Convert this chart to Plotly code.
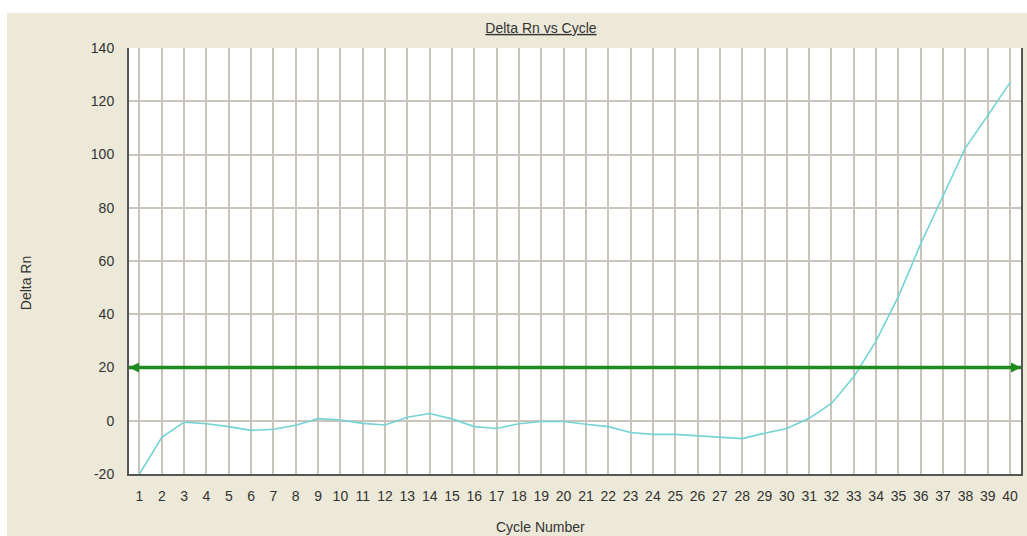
import plotly.graph_objects as go

cycles = list(range(1, 41))
delta_rn = [-20.0, -6.2, -0.5, -1.1, -2.2, -3.6, -3.2, -1.7, 0.8, 0.3,
            -1.0, -1.6, 1.3, 2.7, 0.7, -2.2, -2.9, -1.1, -0.3, -0.3,
            -1.3, -2.2, -4.4, -5.1, -5.1, -5.7, -6.3, -6.7, -4.7, -2.9,
            0.9, 6.5, 16.5, 30.0, 46.7, 66.5, 84.5, 102.5, 114.6, 127.1]
threshold = 20
y_ticks = [-20, 0, 20, 40, 60, 80, 100, 120, 140]
y_tick_labels = ["-20", "0", "20", "40", "60", "80", "100", "120", "140"]
x_tick_labels = [str(c) for c in cycles]

BG = "#ECE9D8"
GRID = "#C9C5BA"
AXIS = "#555555"
TXT = "#333333"
FONT = "Liberation Sans, Arial, sans-serif"

OX, OY = 7, 13            # offset of the beige panel inside the white page
W, H = 1027 - OX, 536 - OY
L, R, T, B = 129 - OX, 4, 48 - OY, 62
pw, ph = W - L - R, H - T - B

x_range = [0.53, 40.49]

fig = go.Figure()

fig.add_trace(go.Scatter(
    x=cycles, y=delta_rn, mode="lines",
    line=dict(color="#74D3D3", width=1.6),
    hoverinfo="x+y", showlegend=False,
))

fig.add_trace(go.Scatter(
    x=x_range, y=[threshold, threshold], mode="lines+markers",
    line=dict(color="#1F8A1F", width=3.5),
    marker=dict(symbol=["arrow-left", "arrow-right"], size=10, color="#1F8A1F",
                line=dict(width=0)),
    cliponaxis=False, showlegend=False, hoverinfo="y",
))

fig.update_layout(
    width=W, height=H,
    margin=dict(l=L, r=R, t=T, b=B, pad=0),
    paper_bgcolor=BG, plot_bgcolor="white",
    font=dict(family=FONT, size=14, color=TXT),
    title=dict(text="<u>Delta Rn vs Cycle</u>", x=(541 - OX) / W, xref="container",
               y=1 - (28 - OY) / H, yref="container", xanchor="center", yanchor="middle",
               font=dict(family=FONT, size=14, color=TXT)),
    xaxis=dict(
        range=x_range, tickmode="array", tickvals=cycles,
        ticktext=x_tick_labels,
        showgrid=True, gridcolor=GRID, gridwidth=2,
        showline=True, linecolor=AXIS, linewidth=2,
        ticks="", ticklabelstandoff=8, zeroline=False,
        tickfont=dict(family=FONT, size=14, color=TXT),
        fixedrange=True,
    ),
    yaxis=dict(
        range=[-20, 140], tickmode="array", tickvals=y_ticks,
        ticktext=y_tick_labels,
        showgrid=True, gridcolor=GRID, gridwidth=1.5,
        showline=True, linecolor=AXIS, linewidth=2, mirror=True,
        ticks="", ticklabelstandoff=10, zeroline=False,
        tickfont=dict(family=FONT, size=14, color=TXT),
        fixedrange=True,
    ),
    annotations=[
        dict(text="Delta Rn", xref="paper", yref="paper",
             x=(26 - OX - L) / pw, y=(H - B - (283 - OY)) / ph, textangle=-90,
             showarrow=False, xanchor="center", yanchor="middle",
             font=dict(family=FONT, size=14, color=TXT)),
        dict(text="Cycle Number", xref="paper", yref="paper",
             x=(541 - OX - L) / pw, y=(H - B - (527 - OY)) / ph,
             showarrow=False, xanchor="center", yanchor="middle",
             font=dict(family=FONT, size=14, color=TXT)),
    ],
)

fig.write_html(
    "out.html",
    post_script="document.body.style.margin='%dpx 0 0 %dpx';document.body.style.background='white';document.body.style.overflow='hidden';" % (OY, OX),
)
